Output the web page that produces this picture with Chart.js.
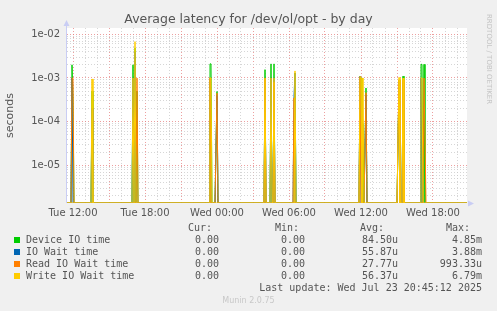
<!DOCTYPE html>
<html>
<head>
<meta charset="utf-8">
<script src="https://cdn.jsdelivr.net/npm/chart.js@4.4.1/dist/chart.umd.min.js"></script>
<style>
body { margin: 0; background: #f0f0f0; }
#wrap { position: relative; width: 497px; height: 311px; overflow: hidden; font-family: "DejaVu Sans", sans-serif; color: #555; }
#latency { position: absolute; left: 0; top: 0; }
.t { position: absolute; white-space: pre; line-height: 12px; }
.mono { font-family: "DejaVu Sans Mono", monospace; font-size: 10px; }
.sq { position: absolute; width: 6px; height: 6px; }
</style>
</head>
<body>
<div id="wrap">
  <canvas id="latency" width="497" height="311"></canvas>
  <div class="t" id="title" style="left:0; width:497px; top:11px; text-align:center; font-size:12.5px; line-height:16px;">Average latency for /dev/ol/opt - by day</div>
  <div class="t" style="left:487px; top:14px; font-size:7px; color:#c4c4c4; transform-origin:0 0; transform:rotate(90deg) translate(0,-8px);">RRDTOOL / TOBI OETIKER</div>
  <div id="legend"></div>
  <div class="t" style="left:0; width:497px; top:295px; text-align:center; font-size:8px; color:#c8c8c8;">Munin 2.0.75</div>
</div>
<script>
// values (5 minute samples, 0 elsewhere)
const spikeTimes = ['Tue 11:55', 'Tue 12:00', 'Tue 13:35', 'Tue 17:00', 'Tue 17:10', 'Tue 17:20',
   'Tue 23:25', 'Tue 23:30', 'Wed 00:00', 'Wed 04:00', 'Wed 04:30', 'Wed 04:45', 'Wed 06:25', 'Wed 06:30',
   'Wed 11:55', 'Wed 12:00', 'Wed 12:10', 'Wed 12:25', 'Wed 15:10', 'Wed 15:30',
   'Wed 17:00', 'Wed 17:05', 'Wed 17:15', 'Wed 17:20'];
const deviceIO = [2.0e-3, 3e-4, 5e-4, 2.0e-3, 4.85e-3, 5e-4, 2.1e-3, 2.1e-3, 4.9e-4, 1.55e-3, 2.1e-3, 2.1e-3, 0, 1.3e-3,
   1.1e-3, 1.0e-3, 9e-5, 5.9e-4, 9e-4, 1.1e-3, 2.05e-3, 2.05e-3, 2.05e-3, 0];
const ioWait = [1.0e-3, 0, 2e-4, 1.0e-3, 3.88e-3, 0, 1.0e-3, 0, 4e-4, 1e-3, 1e-3, 1e-3, 3.8e-4, 1.3e-3,
   1.1e-3, 0, 0, 4e-4, 8e-4, 8e-4, 1e-3, 0, 0, 0];
const readWait = [1.0e-3, 9.8e-4, 0, 0, 0, 9.93e-4, 1e-3, 0, 4.5e-4, 1e-3, 0, 8e-4, 3.5e-4, 0,
   1e-3, 0, 0, 4.6e-4, 9e-4, 9e-4, 0, 0, 9.9e-4, 9.9e-4];
const writeWait = [0, 0, 9.5e-4, 1.0e-3, 6.79e-3, 0, 1e-3, 1e-3, 0, 1e-3, 1e-3, 1e-3, 0, 1.45e-3,
   1.1e-3, 1e-3, 1e-3, 0, 1.03e-3, 1e-3, 1e-3, 1e-3, 0, 0];

const seriesNames = ['Device IO time', 'IO Wait time', 'Read IO Wait time', 'Write IO Wait time'];
const seriesColors = ['#00cc00', '#0066b3', '#ff8000', '#ffcc00'];
const curList = ['0.00', '0.00', '0.00', '0.00'];
const minList = ['0.00', '0.00', '0.00', '0.00'];
const avgList = ['84.50u', '55.87u', '27.77u', '56.37u'];
const maxList = ['4.85m', '3.88m', '993.33u', '6.79m'];
const lastUpdate = 'Last update: Wed Jul 23 20:45:12 2025';

const yMin = 1.38e-6;
const yMax = 1.39e-2;
const tStart = 11.5;          // Tue 11:30
const nSamples = 400;         // 5 min each
const tEnd = tStart + nSamples / 12;

function toHours(s) {
   var parts = s.split(' ');
   var hm = parts[1].split(':');
   return (parts[0] === 'Wed' ? 24 : 0) + Number(hm[0]) + Number(hm[1]) / 60;
}

function buildSeries(vals) {
   var pts = [];
   for (var i = 0; i <= nSamples; i++) {
      pts.push({ x: tStart + i / 12, y: yMin }); // zero sits on the log floor
   }
   spikeTimes.forEach(function(s, k) {
      var i = Math.round((toHours(s) - tStart) * 12);
      if (vals[k] > 0) pts[i].y = vals[k];
   });
   return pts;
}

function fmtHour(h) {
   var day = h >= 24 ? 'Wed' : 'Tue';
   var hh = h % 24;
   return day + ' ' + (hh < 10 ? '0' : '') + hh + ':00';
}

function isDecade(v) {
   var l = Math.log10(v);
   return Math.abs(l - Math.round(l)) < 1e-6;
}

const plotBg = {
   id: 'plotBg',
   beforeDraw: function(chart) {
      var a = chart.chartArea, c = chart.ctx;
      c.save();
      c.fillStyle = '#ffffff';
      c.fillRect(a.left, a.top, a.right - a.left, a.bottom - a.top);
      c.restore();
   },
   afterDraw: function(chart) {
      var a = chart.chartArea, c = chart.ctx;
      c.save();
      c.fillStyle = '#c9cdf4';
      c.strokeStyle = '#c9cdf4';
      c.lineWidth = 1;
      c.beginPath();
      c.moveTo(a.left - 0.5, a.bottom);
      c.lineTo(a.left - 0.5, a.top - 3);
      c.stroke();
      c.beginPath();
      c.moveTo(a.left - 0.5, a.top - 8);
      c.lineTo(a.left - 3.5, a.top - 2);
      c.lineTo(a.left + 2.5, a.top - 2);
      c.closePath();
      c.fill();
      c.beginPath();
      c.moveTo(a.right + 7, a.bottom + 0.5);
      c.lineTo(a.right + 1, a.bottom - 2.5);
      c.lineTo(a.right + 1, a.bottom + 3.5);
      c.closePath();
      c.fill();
      c.restore();
   }
};

const datasets = [deviceIO, ioWait, readWait, writeWait].map(function(vals, k) {
   return {
      label: seriesNames[k],
      data: buildSeries(vals),
      borderColor: seriesColors[k],
      backgroundColor: seriesColors[k],
      borderWidth: 1,
      pointRadius: 0,
      tension: 0,
      order: 4 - k
   };
});

new Chart(document.getElementById('latency'), {
   type: 'line',
   data: { datasets: datasets },
   plugins: [plotBg],
   options: {
      responsive: false,
      animation: false,
      events: [],
      layout: { padding: { left: 0, right: 30, top: 28, bottom: 0 } },
      plugins: { legend: { display: false }, tooltip: { enabled: false } },
      scales: {
         x: {
            type: 'linear',
            min: tStart,
            max: tEnd,
            afterFit: function(s) { s.height = 108; },
            afterBuildTicks: function(s) {
               var t = [];
               for (var h = 12; h <= 44; h++) t.push({ value: h });
               s.ticks = t;
            },
            ticks: {
               autoSkip: false,
               maxRotation: 0,
               padding: 4,
               color: '#555',
               font: { family: 'DejaVu Sans', size: 10 },
               callback: function(v) { return v % 6 === 0 ? fmtHour(v) : ''; }
            },
            grid: {
               drawTicks: false,
               color: function(ctx) {
                  return ctx.tick && ctx.tick.value % 3 === 0 ? 'rgba(230,120,120,0.7)' : 'rgba(200,200,200,0.75)';
               }
            },
            border: { display: false, dash: [1, 2] }
         },
         y: {
            type: 'logarithmic',
            min: yMin,
            max: yMax,
            afterFit: function(s) { s.width = 67; },
            afterBuildTicks: function(s) {
               var t = [];
               for (var k = -6; k <= -2; k++) {
                  for (var m = 1; m <= 9; m++) {
                     var v = m * Math.pow(10, k);
                     if (v >= yMin && v <= yMax) t.push({ value: v });
                  }
               }
               s.ticks = t;
            },
            ticks: {
               autoSkip: false,
               padding: 7,
               color: '#555',
               font: { family: 'DejaVu Sans', size: 10 },
               callback: function(v) {
                  if (!isDecade(v)) return '';
                  var e = Math.round(Math.log10(v));
                  return '1e-' + (Math.abs(e) < 10 ? '0' : '') + Math.abs(e);
               }
            },
            grid: {
               drawTicks: false,
               color: function(ctx) {
                  return ctx.tick && isDecade(ctx.tick.value) ? 'rgba(230,120,120,0.7)' : 'rgba(200,200,200,0.75)';
               }
            },
            border: { display: false, dash: [1, 2] },
            title: {
               display: true,
               text: 'seconds',
               color: '#555',
               padding: { top: 4, bottom: 0 },
               font: { family: 'DejaVu Sans', size: 11 }
            }
         }
      }
   }
});

// legend table under the graph
var legendBox = document.getElementById('legend');
var html = '';
function cell(text, left, rowTop, right) {
   if (right) return '<div class="t mono" style="right:' + (497 - right) + 'px; top:' + rowTop + 'px; text-align:right;">' + text + '</div>';
   return '<div class="t mono" style="left:' + left + 'px; top:' + rowTop + 'px;">' + text + '</div>';
}
html += cell('Cur:', 0, 222, 212);
html += cell('Min:', 0, 222, 299);
html += cell('Avg:', 0, 222, 384);
html += cell('Max:', 0, 222, 470);
for (var i = 0; i < seriesNames.length; i++) {
   var rowY = 234 + i * 12;
   html += '<div class="sq" style="left:14px; top:' + (rowY + 3) + 'px; background:' + seriesColors[i] + ';"></div>';
   html += cell(seriesNames[i], 26, rowY);
   html += cell(curList[i], 0, rowY, 219);
   html += cell(minList[i], 0, rowY, 305);
   html += cell(avgList[i], 0, rowY, 398);
   html += cell(maxList[i], 0, rowY, 482);
}
html += cell(lastUpdate, 0, 282, 482);
legendBox.innerHTML = html;
</script>
</body>
</html>
